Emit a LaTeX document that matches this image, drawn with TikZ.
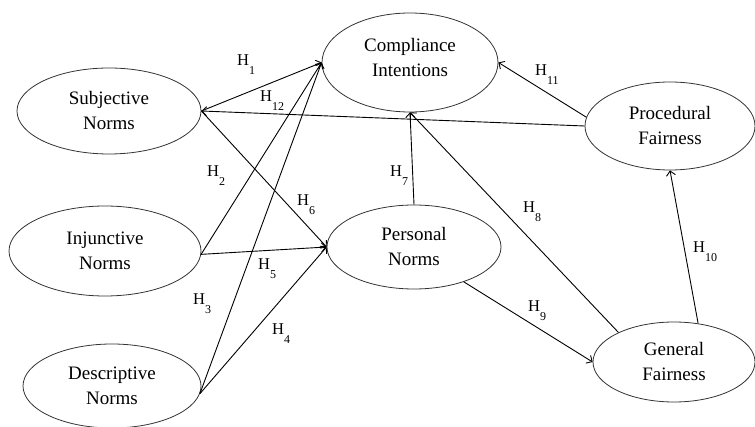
\documentclass[tikz,border=0pt]{standalone}
\usepackage{fontspec}
\setmainfont{Liberation Serif}
\usetikzlibrary{shapes.geometric,arrows.meta}
\newcommand{\Hsub}[1]{H\raisebox{-8.5pt}{\fontsize{12}{12}\selectfont #1}}
\begin{document}
	\begin{tikzpicture}[x=1pt,y=-1pt]
		\tikzset{construct/.style = {shape=ellipse, draw=black!80, line width=0.8pt, inner sep=0pt, align=center, font=\fontsize{19}{25}\selectfont},
			path/.style = {line width=0.9pt, -{Straight Barb[length=4.5pt,width=9pt]}},
			hyp/.style = {anchor=base west, inner sep=0pt, font=\fontsize{16.5}{18}\selectfont}}

		\useasboundingbox (0,0) rectangle (755,427);

		\node[construct, minimum width=184pt, minimum height=86pt] (sub) at (109,111) {Subjective\\Norms};
		\node[construct, minimum width=192pt, minimum height=90pt] (inj) at (105,251) {Injunctive\\Norms};
		\node[construct, minimum width=178pt, minimum height=84pt] (des) at (112,386) {Descriptive\\Norms};
		\node[construct, minimum width=176pt, minimum height=99pt, text depth=11pt] (com) at (410,62.5) {Compliance\\Intentions};
		\node[construct, minimum width=174pt, minimum height=84pt] (per) at (414,247) {Personal\\Norms};
		\node[construct, minimum width=170pt, minimum height=88pt] (pro) at (670,126) {Procedural\\Fairness};
		\node[construct, minimum width=162pt, minimum height=80pt] (gen) at (674,362) {General\\Fairness};

		\draw[path] (sub.east)--(com.west);
		\draw[path] (inj.-2)--(com.west);
		\draw[path] (des.-5)--(com.west);
		\draw[path] (des.-5)--(per.west);
		\draw[path] (inj.-2)--(per.west);
		\draw[path] (sub.east)--(per.west);
		\draw[path] (per.north)--(com.south);
		\draw[path] (gen.152)--(com.south);
		\draw[path] (per.-35)--(gen.west);
		\draw[path] (gen.58)--(pro.south);
		\draw[path] (pro.174)--(com.east);
		\draw[path] (pro.west)--(sub.east);

		\node[hyp] (h1) at (237,66) {\Hsub{1}};
		\node[hyp] (h2) at (207,177) {\Hsub{2}};
		\node[hyp] (h3) at (193,305) {\Hsub{3}};
		\node[hyp] (h4) at (272,335) {\Hsub{4}};
		\node[hyp] (h5) at (258,270) {\Hsub{5}};
		\node[hyp] (h6) at (297,206) {\Hsub{6}};
		\node[hyp] (h7) at (390,177) {\Hsub{7}};
		\node[hyp] (h8) at (523,213) {\Hsub{8}};
		\node[hyp] (h9) at (528,312) {\Hsub{9}};
		\node[hyp] (h10) at (693,253) {\Hsub{10}};
		\node[hyp] (h11) at (535,76) {\Hsub{11}};
		\node[hyp] (h12) at (260,102) {\Hsub{12}};

	\end{tikzpicture}
\end{document}
